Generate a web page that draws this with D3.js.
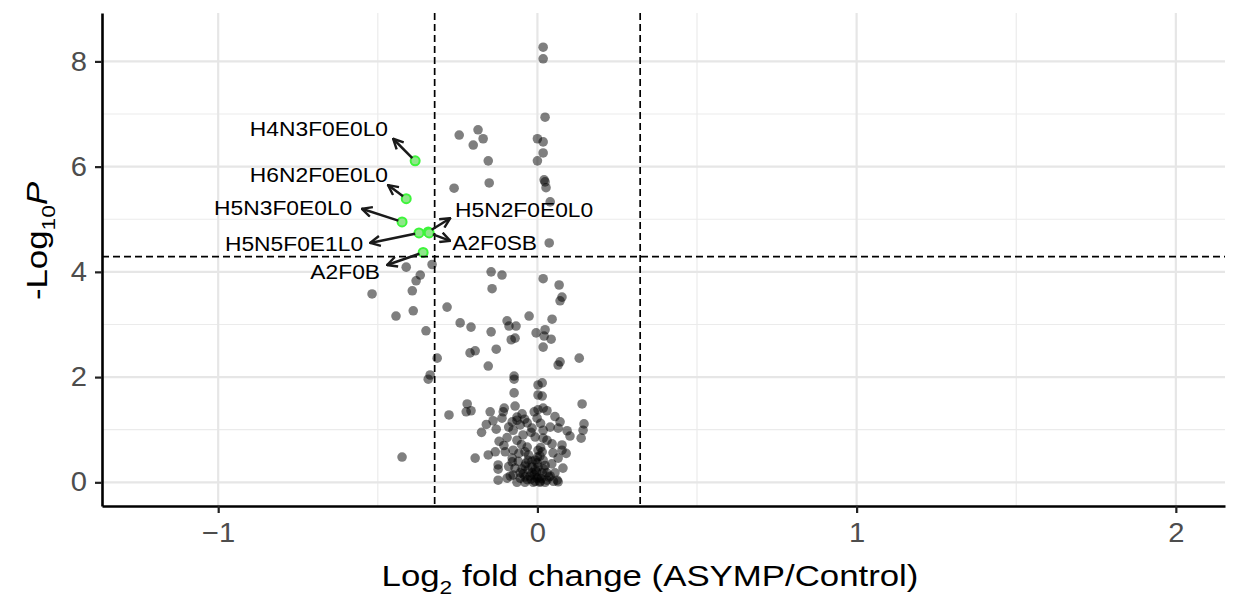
<!DOCTYPE html>
<meta charset="utf-8">
<script src="https://d3js.org/d3.v7.min.js"></script>
<style>
  body { margin: 0; background: #fff; }
  text { font-family: "Liberation Sans", Arial, sans-serif; }
</style>
<div id="chart"></div>
<script>

// glycan features: [log2 fold change, -log10 p]
var features = [
  [0.018,8.27],[0.018,8.05],[0.024,6.94],[-0.245,6.60],[-0.186,6.70],[-0.170,6.53],
  [-0.201,6.41],[-0.154,6.11],[0.000,6.53],[0.018,6.47],[0.018,6.26],[0.000,6.11],
  [-0.261,5.59],[-0.151,5.69],[0.021,5.75],[0.024,5.71],[0.027,5.60],[0.040,5.33],
  [0.037,4.55],[-0.330,4.14],[-0.145,4.00],[-0.111,3.94],[0.018,3.87],[0.068,3.75],
  [-0.142,3.68],[-0.411,4.09],[-0.367,3.94],[-0.380,3.83],[-0.518,3.58],[-0.392,3.64],
  [-0.443,3.16],[-0.389,3.26],[-0.349,2.88],[-0.314,2.36],[-0.283,3.33],[0.077,3.52],
  [0.071,3.45],[-0.026,3.16],[0.046,3.10],[-0.242,3.03],[-0.208,2.95],[-0.145,2.86],
  [-0.095,3.07],[-0.089,2.97],[-0.067,2.97],[-0.004,2.84],[0.024,2.90],[0.021,2.78],
  [0.043,2.72],[-0.082,2.71],[-0.070,2.74],[0.018,2.57],[-0.211,2.46],[-0.195,2.50],
  [-0.129,2.53],[-0.154,2.21],[0.071,2.29],[0.065,2.23],[0.131,2.36],[-0.336,2.04],
  [-0.342,1.96],[-0.073,2.02],[-0.073,1.96],[0.002,1.85],[0.015,1.89],[-0.073,1.70],
  [0.002,1.66],[0.015,1.64],[0.140,1.49],[-0.277,1.28],[-0.220,1.49],[-0.223,1.34],
  [-0.208,1.36],[-0.148,1.34],[-0.104,1.41],[-0.107,1.34],[-0.070,1.45],[-0.139,1.17],
  [-0.129,1.01],[-0.111,1.22],[-0.079,1.15],[-0.064,1.24],[-0.048,1.30],[-0.064,1.18],
  [-0.010,1.34],[0.002,1.38],[0.018,1.41],[0.030,1.36],[-0.001,1.22],[-0.032,1.13],
  [-0.054,1.09],[0.071,1.15],[0.065,1.03],[0.093,0.98],[0.102,0.88],[0.146,1.11],
  [0.143,0.99],[0.137,0.84],[-0.076,0.99],[-0.064,0.80],[-0.045,0.90],[-0.017,1.03],
  [-0.007,0.86],[0.018,0.99],[0.018,0.84],[0.046,0.73],[0.077,0.71],[0.077,0.61],
  [0.049,0.56],[0.065,0.46],[0.080,0.27],[0.055,0.18],[0.062,0.04],[-0.424,0.48],
  [-0.195,0.46],[-0.154,0.52],[-0.132,0.58],[-0.101,0.58],[-0.079,0.46],[-0.076,0.61],
  [-0.123,0.33],[-0.123,0.25],[-0.079,0.39],[-0.039,0.58],[-0.029,0.42],[-0.001,0.37],
  [0.015,0.58],[-0.032,0.67],[0.002,0.61],[-0.007,0.42],[0.018,0.42],[-0.017,0.29],
  [0.002,0.29],[-0.039,0.31],[-0.070,0.27],[-0.123,0.04],[-0.095,0.08],[-0.076,0.14],
  [-0.054,0.18],[-0.039,0.10],[-0.017,0.18],[-0.001,0.08],[0.015,0.18],[0.030,0.04],
  [0.065,0.01],[-0.013,0.00],[0.008,0.00],[-0.039,0.00],[-0.064,0.00],[-0.023,0.12],
  [-0.007,0.24],[-0.054,0.08],[0.030,0.18],[-0.029,0.24],[0.024,0.32],[0.040,0.12],
  [-0.048,0.25],[0.008,0.02],[-0.032,0.05],[-0.007,0.02],[0.024,0.00],[-0.017,0.40],
  [0.008,0.50],[-0.058,0.55],[-0.090,0.30],
  [-0.010,0.14],[0.005,0.10],[-0.020,0.06],[0.012,0.07],[-0.045,0.16],[0.036,0.10],
  [-0.003,0.20],[0.020,0.25],[-0.036,0.36],[0.000,0.48],[-0.060,0.40],[0.045,0.35],
  [-0.085,0.12],[0.050,0.02],[-0.028,0.52],[0.010,0.66],[-0.050,0.72],[0.030,0.80],
  [-0.095,0.85],[-0.020,0.95],[0.040,1.05],[-0.040,1.20],[0.010,1.12],[-0.090,1.05],
  [-0.160,1.10],[-0.175,0.95],[0.055,1.25],[-0.120,0.78],[0.090,0.55],[-0.105,0.70]
];

// significant, labelled features
var sigNames = ["H4N3F0E0L0","H6N2F0E0L0","H5N3F0E0L0","H5N5F0E1L0","H5N2F0E0L0","A2F0SB","A2F0B"];
var sigFC    = [-0.383, -0.411, -0.424, -0.371, -0.342, -0.339, -0.358];
var sigLogP  = [6.11, 5.39, 4.95, 4.74, 4.76, 4.74, 4.37];

// where the repelled labels ended up (data units) and where their arrows point
var labelFC   = [-0.468, -0.468, -0.580, -0.546, -0.258, -0.267, -0.493];
var labelLogP = [6.72, 5.84, 5.21, 4.53, 5.18, 4.55, 4.00];
var labelSide = ["end","end","end","end","start","start","end"];
var arrowFC   = [-0.452, -0.468, -0.550, -0.524, -0.273, -0.273, -0.471];
var arrowLogP = [6.53, 5.65, 5.20, 4.55, 5.02, 4.59, 4.13];

var xTicks = [-1, 0, 1, 2];
var xMinor = [-0.5, 0.5, 1.5];
var yTicks = [0, 2, 4, 6, 8];
var yMinor = [1, 3, 5, 7];

var fcCutoff = 0.3219;   // log2(1.25)
var pCutoff = 4.29;

var W = 1235, H = 599;
var margin = {top: 13, right: 10, bottom: 93, left: 102};

// the original text face runs wider than Liberation Sans
function widen(sel, k) {
  sel.each(function() {
    var len = this.getComputedTextLength();
    d3.select(this).attr("textLength", len * k).attr("lengthAdjust", "spacingAndGlyphs");
  });
}

var svg = d3.select("#chart")
  .append("svg")
    .attr("width", W)
    .attr("height", H);

var x = d3.scaleLinear()
  .domain([-1.364, 2.154])
  .range([margin.left, W - margin.right]);
var y = d3.scaleLinear()
  .domain([-0.45, 8.92])
  .range([H - margin.bottom, margin.top]);

// grid
var grid = svg.append("g");
grid.selectAll(".vminor").data(xMinor).enter().append("line")
  .attr("x1", d => x(d)).attr("x2", d => x(d))
  .attr("y1", margin.top).attr("y2", H - margin.bottom)
  .style("stroke", "#ebebeb").style("stroke-width", 1.2);
grid.selectAll(".hminor").data(yMinor).enter().append("line")
  .attr("x1", margin.left).attr("x2", W - margin.right)
  .attr("y1", d => y(d)).attr("y2", d => y(d))
  .style("stroke", "#ebebeb").style("stroke-width", 1.2);
grid.selectAll(".vmajor").data(xTicks).enter().append("line")
  .attr("x1", d => x(d)).attr("x2", d => x(d))
  .attr("y1", margin.top).attr("y2", H - margin.bottom)
  .style("stroke", "#e6e6e6").style("stroke-width", 2.2);
grid.selectAll(".hmajor").data(yTicks).enter().append("line")
  .attr("x1", margin.left).attr("x2", W - margin.right)
  .attr("y1", d => y(d)).attr("y2", d => y(d))
  .style("stroke", "#e6e6e6").style("stroke-width", 2.2);

// points
svg.append("g").selectAll("circle")
  .data(features)
  .enter()
  .append("circle")
    .attr("cx", d => x(d[0]))
    .attr("cy", d => y(d[1]))
    .attr("r", 4.8)
    .style("fill", "black")
    .style("opacity", 0.5);

var sig = sigNames.map(function(n, i) {
  return {name: n, fc: sigFC[i], p: sigLogP[i], lx: labelFC[i], ly: labelLogP[i],
          side: labelSide[i], ax: arrowFC[i], ay: arrowLogP[i]};
});

svg.append("g").selectAll("circle")
  .data(sig)
  .enter()
  .append("circle")
    .attr("cx", d => x(d.fc))
    .attr("cy", d => y(d.p))
    .attr("r", 4.5)
    .style("fill", "#8fe68a")
    .style("stroke", "#3df53a")
    .style("stroke-width", 2);

// cutoff lines
var cut = svg.append("g")
  .style("stroke", "black").style("stroke-width", 1.7).style("stroke-dasharray", "7,4");
[-fcCutoff, fcCutoff].forEach(function(v) {
  cut.append("line")
    .attr("x1", x(v)).attr("x2", x(v))
    .attr("y1", margin.top).attr("y2", H - margin.bottom);
});
cut.append("line")
  .attr("x1", margin.left).attr("x2", W - margin.right)
  .attr("y1", y(pCutoff)).attr("y2", y(pCutoff));

// label arrows
svg.append("defs").append("marker")
    .attr("id", "arrow")
    .attr("viewBox", "0 0 12 12")
    .attr("refX", 11).attr("refY", 6)
    .attr("markerWidth", 12).attr("markerHeight", 12)
    .attr("markerUnits", "userSpaceOnUse")
    .attr("orient", "auto")
  .append("path")
    .attr("d", "M1,1 L11,6 L1,11")
    .style("fill", "none").style("stroke", "#1a1a1a").style("stroke-width", 2.4);

svg.append("g").selectAll("line")
  .data(sig)
  .enter()
  .append("line")
    .attr("x1", function(d) {
      var dx = x(d.ax) - x(d.fc), dy = y(d.ay) - y(d.p), l = Math.hypot(dx, dy);
      return x(d.fc) + dx / l * 4; })
    .attr("y1", function(d) {
      var dx = x(d.ax) - x(d.fc), dy = y(d.ay) - y(d.p), l = Math.hypot(dx, dy);
      return y(d.p) + dy / l * 4; })
    .attr("x2", d => x(d.ax))
    .attr("y2", d => y(d.ay))
    .style("stroke", "#1a1a1a")
    .style("stroke-width", 2.5)
    .attr("marker-end", "url(#arrow)");

svg.append("g").selectAll("text")
  .data(sig)
  .enter()
  .append("text")
    .attr("x", d => x(d.lx))
    .attr("y", d => y(d.ly))
    .attr("dy", "0.36em")
    .attr("text-anchor", d => d.side)
    .style("font-size", "20px")
    .style("fill", "black")
    .text(d => d.name)
    .call(widen, 1.14);

// axes
var xAxis = svg.append("g")
  .attr("transform", "translate(0," + (H - margin.bottom) + ")")
  .call(d3.axisBottom(x).tickValues(xTicks).tickFormat(d3.format("d"))
        .tickSize(7).tickSizeOuter(0).tickPadding(10));
var yAxis = svg.append("g")
  .attr("transform", "translate(" + margin.left + ",0)")
  .call(d3.axisLeft(y).tickValues(yTicks).tickFormat(d3.format("d"))
        .tickSize(7).tickSizeOuter(0).tickPadding(8));

[xAxis, yAxis].forEach(function(a) {
  a.select(".domain").style("stroke", "black").style("stroke-width", 2.6);
  a.selectAll(".tick line").style("stroke", "#222").style("stroke-width", 2.2);
  a.selectAll(".tick text")
    .style("font-size", "27px")
    .style("fill", "#4d4d4d")
    .style("font-family", "'Liberation Sans', Arial, sans-serif")
    .call(widen, 1.08);
});

// axis titles
var xt = svg.append("text")
  .attr("x", 650)
  .attr("y", 586)
  .attr("text-anchor", "middle")
  .style("font-size", "29px");
xt.append("tspan").text("Log");
xt.append("tspan").attr("dy", 8).style("font-size", "19px").text("2");
xt.append("tspan").attr("dy", -8).text(" fold change (ASYMP/Control)");
widen(xt, 1.2);

var yt = svg.append("text")
  .attr("transform", "translate(47,241) rotate(-90)")
  .attr("text-anchor", "middle")
  .style("font-size", "29px");
yt.append("tspan").text("-Log");
yt.append("tspan").attr("dy", 8).style("font-size", "19px").text("10");
yt.append("tspan").attr("dy", -8).style("font-style", "italic").text("P");
widen(yt, 1.2);

</script>
